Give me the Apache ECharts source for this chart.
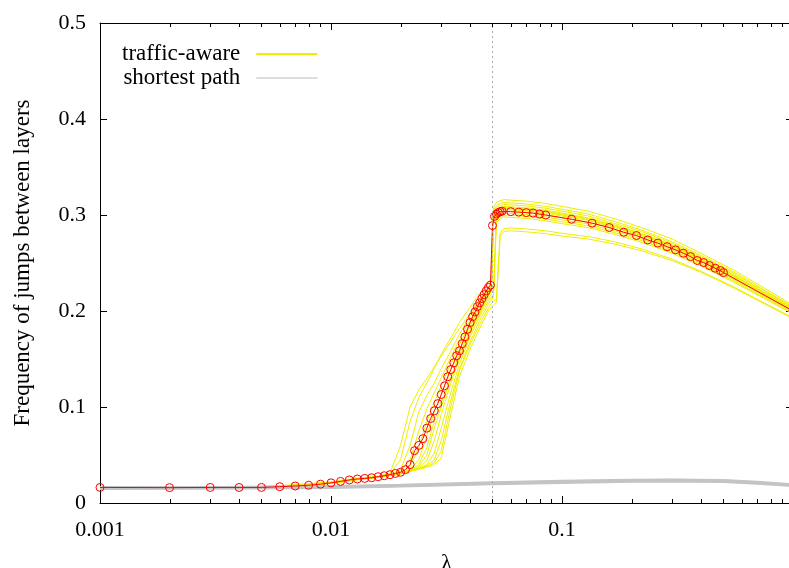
<!DOCTYPE html>
<html>
<head>
<meta charset="utf-8">
<script src="https://cdn.jsdelivr.net/npm/echarts@6/dist/echarts.min.js"></script>
<style>
  html, body { margin: 0; padding: 0; background: #fff; }
  #chart { width: 789px; height: 568px; }
</style>
</head>
<body>
<div id="chart"></div>
<script>
// lambda grid shared by the traffic-aware runs
const runX = [0.001, 0.003, 0.006, 0.01, 0.013,
  0.016, 0.018, 0.02, 0.022, 0.024, 0.026, 0.028, 0.03, 0.033, 0.036, 0.04, 0.044, 0.048, 0.0495,
  0.0505, 0.052, 0.054, 0.056, 0.06, 0.07, 0.085, 0.1, 0.13, 0.17, 0.22, 0.3, 0.4, 0.55, 0.75, 1];

// traffic-aware runs (yellow)
const runA = [0.017, 0.017, 0.018, 0.022, 0.026,
  0.028, 0.031, 0.06, 0.10, 0.118, 0.13, 0.142, 0.153, 0.168, 0.182, 0.197, 0.212, 0.224, 0.228,
  0.299, 0.304, 0.306, 0.307, 0.3065, 0.3055, 0.303, 0.300, 0.2953, 0.2877, 0.2793, 0.2674, 0.2536, 0.2366, 0.2184, 0.2015];
const runB = [0.016, 0.0165, 0.0175, 0.0215, 0.0255,
  0.027, 0.03, 0.045, 0.085, 0.11, 0.125, 0.14, 0.155, 0.172, 0.188, 0.204, 0.218, 0.23, 0.234,
  0.308, 0.313, 0.315, 0.316, 0.3155, 0.3145, 0.312, 0.309, 0.304, 0.296, 0.287, 0.275, 0.260, 0.243, 0.224, 0.206];
const runC = [0.0165, 0.016, 0.017, 0.021, 0.025,
  0.027, 0.029, 0.035, 0.06, 0.095, 0.112, 0.125, 0.14, 0.158, 0.176, 0.195, 0.21, 0.224, 0.229,
  0.303, 0.308, 0.310, 0.311, 0.3105, 0.3095, 0.307, 0.304, 0.299, 0.291, 0.283, 0.2705, 0.2565, 0.2395, 0.221, 0.2035];
const runD = [0.016, 0.016, 0.0168, 0.0205, 0.0245,
  0.027, 0.029, 0.033, 0.045, 0.075, 0.098, 0.115, 0.13, 0.152, 0.17, 0.19, 0.207, 0.222, 0.227,
  0.301, 0.306, 0.308, 0.309, 0.3085, 0.3075, 0.305, 0.302, 0.297, 0.2895, 0.281, 0.269, 0.255, 0.238, 0.2196, 0.2025];
const runE = [0.0158, 0.0162, 0.017, 0.021, 0.0248,
  0.027, 0.029, 0.032, 0.038, 0.058, 0.085, 0.105, 0.122, 0.145, 0.165, 0.187, 0.206, 0.221, 0.226,
  0.298, 0.303, 0.305, 0.306, 0.3055, 0.3045, 0.302, 0.299, 0.2944, 0.2868, 0.2785, 0.2666, 0.2528, 0.2359, 0.2178, 0.201];
const runF = [0.0163, 0.0165, 0.0172, 0.0212, 0.0252,
  0.0272, 0.0292, 0.031, 0.035, 0.045, 0.07, 0.095, 0.113, 0.138, 0.16, 0.184, 0.203, 0.219, 0.224,
  0.296, 0.301, 0.303, 0.304, 0.3035, 0.3025, 0.300, 0.297, 0.2925, 0.285, 0.2768, 0.265, 0.2513, 0.2345, 0.2166, 0.200];
const runG = [0.016, 0.0158, 0.0166, 0.0205, 0.0245,
  0.027, 0.029, 0.031, 0.034, 0.04, 0.058, 0.085, 0.105, 0.13, 0.152, 0.178, 0.199, 0.216, 0.222,
  0.294, 0.299, 0.301, 0.302, 0.3015, 0.3005, 0.298, 0.295, 0.2906, 0.2832, 0.2751, 0.2634, 0.2498, 0.2331, 0.2154, 0.199];
const runH = [0.0166, 0.0162, 0.017, 0.0208, 0.025,
  0.0268, 0.0288, 0.031, 0.034, 0.038, 0.05, 0.078, 0.1, 0.13, 0.155, 0.18, 0.2, 0.216, 0.221,
  0.305, 0.310, 0.312, 0.313, 0.3125, 0.3115, 0.309, 0.306, 0.301, 0.293, 0.2845, 0.272, 0.258, 0.241, 0.222, 0.2045];
const runI = [0.0155, 0.016, 0.0168, 0.0206, 0.0244,
  0.0268, 0.0287, 0.0305, 0.0335, 0.037, 0.044, 0.065, 0.092, 0.125, 0.15, 0.177, 0.197, 0.213, 0.218,
  0.220, 0.294, 0.298, 0.300, 0.2995, 0.2985, 0.296, 0.293, 0.2887, 0.2814, 0.2734, 0.2618, 0.2483, 0.2317, 0.2142, 0.198];
const runJ = [0.0162, 0.0164, 0.0172, 0.021, 0.0248,
  0.027, 0.029, 0.031, 0.0335, 0.036, 0.04, 0.052, 0.078, 0.115, 0.145, 0.173, 0.194, 0.21, 0.215,
  0.217, 0.292, 0.296, 0.298, 0.2975, 0.2965, 0.294, 0.291, 0.2868, 0.2796, 0.2717, 0.2602, 0.2468, 0.2303, 0.213, 0.197];
const runK = [0.016, 0.0162, 0.0169, 0.0207, 0.0246,
  0.0268, 0.0287, 0.0305, 0.033, 0.0355, 0.039, 0.045, 0.065, 0.107, 0.14, 0.168, 0.19, 0.207, 0.212,
  0.214, 0.302, 0.306, 0.308, 0.3075, 0.3065, 0.304, 0.301, 0.2963, 0.2886, 0.280, 0.2682, 0.2543, 0.2373, 0.219, 0.202];
const runL = [0.0164, 0.016, 0.0167, 0.0204, 0.0243,
  0.0266, 0.0285, 0.0303, 0.0328, 0.0352, 0.038, 0.042, 0.054, 0.1, 0.138, 0.165, 0.186, 0.203, 0.208,
  0.210, 0.213, 0.281, 0.286, 0.2865, 0.2855, 0.2835, 0.281, 0.2775, 0.272, 0.2648, 0.254, 0.2413, 0.2255, 0.2086, 0.193];
const runM = [0.0158, 0.0161, 0.0168, 0.0206, 0.0245,
  0.0268, 0.0286, 0.0304, 0.033, 0.0353, 0.037, 0.04, 0.047, 0.092, 0.132, 0.16, 0.182, 0.2, 0.204,
  0.206, 0.209, 0.278, 0.283, 0.2835, 0.2825, 0.2805, 0.278, 0.275, 0.2695, 0.2628, 0.2525, 0.2403, 0.2245, 0.2076, 0.192];
const trafficRuns = [runA, runB, runC, runD, runE, runF, runG, runH, runI, runJ, runK, runL, runM];

// shortest path runs (grey)
const pathX = [0.001, 0.002, 0.005, 0.01, 0.02, 0.05, 0.1, 0.2, 0.3, 0.5, 0.7, 1];
const path1 = [0.0146, 0.0147, 0.015, 0.0156, 0.017, 0.0194, 0.0208, 0.022, 0.0224, 0.0218, 0.02, 0.0176];
const path2 = [0.0152, 0.0153, 0.0157, 0.0162, 0.0176, 0.02, 0.0215, 0.0227, 0.023, 0.0224, 0.0206, 0.0181];
const path3 = [0.0157, 0.0158, 0.0161, 0.0167, 0.0181, 0.0206, 0.0221, 0.0233, 0.0236, 0.023, 0.0212, 0.0187];
const path4 = [0.0162, 0.0163, 0.0167, 0.0172, 0.0187, 0.0212, 0.0227, 0.0239, 0.0242, 0.0235, 0.0217, 0.0192];
const path5 = [0.0167, 0.0168, 0.0171, 0.0177, 0.0192, 0.0217, 0.0232, 0.0244, 0.0247, 0.024, 0.0222, 0.0197];
const pathRuns = [path1, path2, path3, path4, path5];

// average of traffic-aware runs (red circles)
const meanX = [0.001, 0.002, 0.003, 0.004, 0.005, 0.006, 0.007, 0.008, 0.009,
  0.010, 0.011, 0.012, 0.013, 0.014, 0.015, 0.016, 0.017, 0.018, 0.019,
  0.020, 0.021, 0.022, 0.023, 0.024, 0.025, 0.026, 0.027, 0.028, 0.029,
  0.030, 0.031, 0.032, 0.033, 0.034, 0.035, 0.036, 0.037, 0.038, 0.039,
  0.040, 0.041, 0.042, 0.043, 0.044, 0.045, 0.046, 0.047, 0.048, 0.049,
  0.050, 0.051, 0.052, 0.053, 0.054, 0.055, 0.060, 0.065, 0.070, 0.075, 0.080, 0.085,
  0.11, 0.135, 0.16, 0.185, 0.21, 0.235, 0.26, 0.285, 0.31, 0.335, 0.36, 0.385, 0.41, 0.435, 0.46, 0.485, 0.5, 1];
const meanY = [0.0162, 0.016, 0.0162, 0.0162, 0.0162, 0.017, 0.0177, 0.0185, 0.0196,
  0.021, 0.0225, 0.024, 0.025, 0.0256, 0.0263, 0.0274, 0.0284, 0.0295, 0.0308,
  0.032, 0.0347, 0.040, 0.0545, 0.060, 0.067, 0.078, 0.088, 0.096, 0.1035,
  0.113, 0.122, 0.1315, 0.139, 0.146, 0.1535, 0.1585, 0.166, 0.173, 0.181,
  0.188, 0.194, 0.199, 0.2045, 0.2085, 0.213, 0.217, 0.221, 0.2245, 0.227,
  0.289, 0.2985, 0.301, 0.3025, 0.3035, 0.304, 0.3035, 0.303, 0.3025, 0.302, 0.301, 0.300,
  0.2956, 0.2915, 0.287, 0.282, 0.2786, 0.274, 0.2707, 0.267, 0.2637, 0.2602, 0.2567, 0.2526, 0.2505, 0.2474, 0.2446, 0.2421, 0.240, 0.200];

const jumpLambda = 0.05;
const xTickValues = [0.001, 0.01, 0.1];
const xTickLabels = ['0.001', '0.01', '0.1'];
const minorTicks = [0.002, 0.003, 0.004, 0.005, 0.006, 0.007, 0.008, 0.009,
  0.02, 0.03, 0.04, 0.05, 0.06, 0.07, 0.08, 0.09,
  0.2, 0.3, 0.4, 0.5, 0.6, 0.7, 0.8, 0.9];

const FONT = 'Liberation Serif';
const YELLOW = '#eeee00';
const GREY = '#c4c4c4';

const chart = echarts.init(document.getElementById('chart'));

const series = [];
trafficRuns.forEach((run, i) => {
  const s = {
    type: 'line',
    name: 'traffic-aware',
    data: runX.map((x, j) => [x, run[j]]),
    symbol: 'none',
    lineStyle: { color: YELLOW, width: 1 },
    itemStyle: { color: YELLOW },
    silent: true,
    z: 2
  };
  if (i === 0) {
    s.markLine = {
      silent: true,
      symbol: ['none', 'none'],
      label: { show: false },
      lineStyle: { color: '#aaaaaa', type: [2, 3], width: 1 },
      data: [{ xAxis: jumpLambda }]
    };
  }
  series.push(s);
});
pathRuns.forEach((run) => {
  series.push({
    type: 'line',
    name: 'shortest path',
    data: pathX.map((x, j) => [x, run[j]]),
    symbol: 'none',
    lineStyle: { color: GREY, width: 1.8 },
    itemStyle: { color: '#dddddd' },
    silent: true,
    z: 3
  });
});
series.push({
  type: 'line',
  name: 'mean',
  data: meanX.map((x, i) => [x, meanY[i]]),
  symbol: 'circle',
  symbolSize: 8,
  showAllSymbol: true,
  lineStyle: { color: '#ff0000', width: 1 },
  itemStyle: { color: 'rgba(255,255,255,0)', borderColor: '#ff0000', borderWidth: 1 },
  silent: true,
  z: 4
});
// minor log ticks on bottom and top border
series.push({
  type: 'custom',
  data: minorTicks.map(v => [v, 0]),
  silent: true,
  z: 5,
  clip: false,
  renderItem: (params, api) => {
    const v = api.value(0);
    const b = api.coord([v, 0]);
    const t = api.coord([v, 0.5]);
    const x = Math.round(b[0]) + 0.5;
    return {
      type: 'group',
      children: [
        { type: 'line', shape: { x1: x, y1: b[1], x2: x, y2: b[1] - 4 }, style: { stroke: '#000', lineWidth: 1 } },
        { type: 'line', shape: { x1: x, y1: t[1], x2: x, y2: t[1] + 4 }, style: { stroke: '#000', lineWidth: 1 } }
      ]
    };
  }
});

const axisBase = {
  axisLine: { show: true, onZero: false, lineStyle: { color: '#000', width: 1 } },
  axisTick: { show: true, inside: true, length: 7, lineStyle: { color: '#000' } },
  splitLine: { show: false }
};

chart.setOption({
  animation: false,
  backgroundColor: '#fff',
  textStyle: { fontFamily: FONT },
  grid: { left: 100, right: -4, top: 23, bottom: 65, outerBoundsMode: 'none', containLabel: false },
  legend: {
    data: ['traffic-aware', 'shortest path'],
    orient: 'vertical',
    align: 'right',
    left: 122,
    top: 42,
    padding: 0,
    itemGap: 0,
    itemWidth: 61,
    itemHeight: 2,
    icon: 'rect',
    selectedMode: false,
    textStyle: { fontFamily: FONT, fontSize: 23, color: '#000', lineHeight: 24, padding: [0, 11, 0, 0] }
  },
  xAxis: [
    Object.assign({}, axisBase, {
      type: 'log', logBase: 10, min: 0.001, max: 1, position: 'bottom',
      name: 'λ', nameLocation: 'middle', nameGap: 49,
      nameTextStyle: { fontFamily: FONT, fontSize: 23, color: '#000' },
      axisLabel: {
        fontFamily: FONT, fontSize: 22, color: '#000', margin: 16,
        formatter: (v) => {
          const i = xTickValues.findIndex(t => Math.abs(t - v) / t < 1e-6);
          return i >= 0 ? xTickLabels[i] : '';
        }
      }
    }),
    Object.assign({}, axisBase, {
      type: 'log', logBase: 10, min: 0.001, max: 1, position: 'top',
      axisLabel: { show: false }
    })
  ],
  yAxis: [
    Object.assign({}, axisBase, {
      type: 'value', min: 0, max: 0.5, interval: 0.1, position: 'left',
      name: 'Frequency of jumps between layers', nameLocation: 'middle', nameGap: 66,
      nameTextStyle: { fontFamily: FONT, fontSize: 23, color: '#000' },
      axisLabel: { fontFamily: FONT, fontSize: 22, color: '#000', margin: 14 }
    }),
    Object.assign({}, axisBase, {
      type: 'value', min: 0, max: 0.5, interval: 0.1, position: 'right',
      axisLabel: { show: false }
    })
  ],
  series: series
});
</script>
</body>
</html>
